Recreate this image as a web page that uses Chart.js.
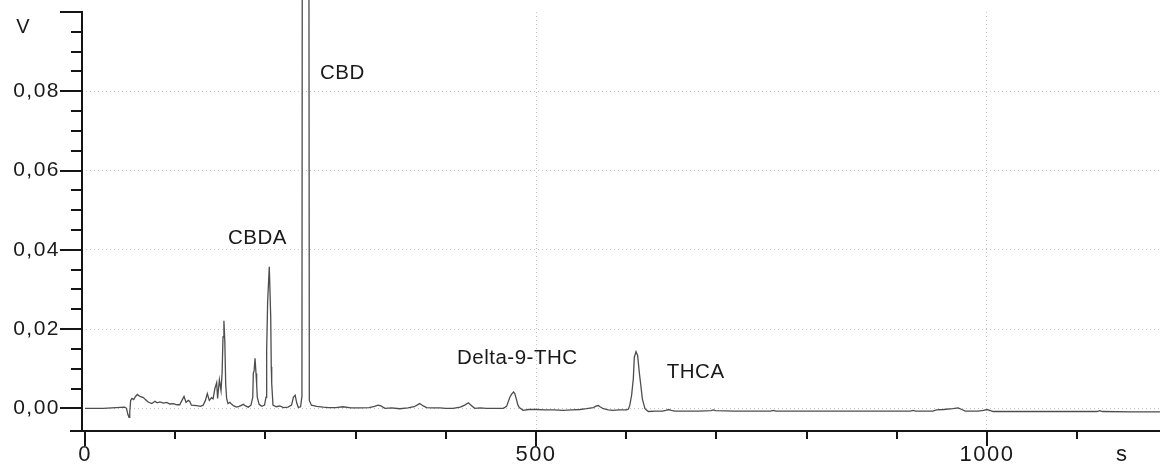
<!DOCTYPE html>
<html>
<head>
<meta charset="utf-8">
<script src="https://cdn.jsdelivr.net/npm/chart.js@4/dist/chart.umd.min.js"></script>
<style>
  html, body { margin: 0; padding: 0; background: #ffffff; }
  #wrap { width: 1160px; height: 466px; position: relative; }
</style>
</head>
<body>
<div id="wrap"><canvas id="c"></canvas></div>
<script>
// ---- data ----
const timeSec = [
  0, 20, 44, 46, 47.5, 48.8, 49.6, 50.6, 52, 54, 56, 58, 61, 64.7, 67, 70, 74, 77.6, 80, 83,
  87, 90.5, 94, 98, 102, 105, 107.5, 109.8, 112, 114.5, 116, 118, 123.8, 128, 131, 133.5, 135.6, 137.8, 140.4, 142,
  144, 146, 147, 149, 150.8, 152, 153, 154, 155, 156, 157, 158.5, 160.7, 162.6, 165, 168, 171, 175.5, 178, 181,
  184, 186, 186.6, 187.5, 188.5, 189.6, 190.3, 191, 193, 196, 199, 200.7, 201.4, 202.5, 204.3, 205.9, 206.5, 207, 208.4, 212,
  216, 220, 225, 229, 231, 233, 234.7, 236.5, 239, 240.5, 241.5, 244.5, 247.5, 248.7, 251, 257, 264, 270, 278, 286,
  295, 305, 315, 321, 325, 328, 332.6, 340, 349, 358, 365, 371, 375, 378.8, 385, 393.6, 400, 408, 416, 421,
  425, 428, 432, 438, 445, 455, 463.7, 467.4, 471, 473, 475, 476.5, 478, 480, 481.5, 485.6, 492, 500.7, 510, 520,
  530, 540, 548.8, 556, 563.5, 567, 569, 571, 574.6, 580, 585.4, 592, 600.5, 602.5, 604, 606, 607.9, 609, 610.9, 612.7,
  614.5, 616, 617.9, 620.8, 624.5, 632, 640, 644, 646.7, 650, 654, 665, 680, 694, 696.6, 699, 720, 740, 760, 763,
  766, 800, 850, 900, 915, 918, 921, 940, 944, 952, 962, 968, 972, 976, 990, 996, 1000, 1003, 1007, 1050,
  1100, 1122, 1125, 1128, 1160, 1192
];
const signalV = [
  0, 0, 0.0003, 0, -0.0015, -0.0023, -0.001, 0.002, 0.0025, 0.0022, 0.003, 0.0035, 0.003, 0.0027, 0.0022, 0.0016, 0.0012, 0.0018, 0.0014, 0.0016,
  0.0013, 0.0015, 0.0011, 0.0012, 0.0009, 0.0009, 0.002, 0.003, 0.0015, 0.002, 0.0018, 0.0008, 0.0007, 0.0005, 0.0008, 0.002, 0.0037, 0.002, 0.0027, 0.0024,
  0.005, 0.0065, 0.0025, 0.0072, 0.0045, 0.009, 0.018, 0.0221, 0.017, 0.006, 0.0025, 0.0012, 0.0015, 0.001, 0.0006, 0.0003, 0.0005, 0.001, 0.0006, 0.0003,
  0.0008, 0.0028, 0.0088, 0.0095, 0.0126, 0.0088, 0.006, 0.0028, 0.001, 0.0005, 0.0008, 0.0028, 0.0146, 0.027, 0.0357, 0.023, 0.0104, 0.0063, 0.0008, 0.0004,
  0.0006, 0.0002, 0.0003, 0.0008, 0.0028, 0.0033, 0.0014, 0.0002, 0.0004, 0.003, 0.3, 1.0, 0.3, 0.002, 0.0008, 0.0005, 0.0003, 0.0002, 0.0002, 0.0004,
  0.0001, 0.0001, 0.0002, 0.0005, 0.0008, 0.0006, 0, 0.0001, -0.0001, 0.0001, 0.0004, 0.0012, 0.0006, 0.0002, 0.0001, 0.0001, 0, 0, 0.0003, 0.0008,
  0.0014, 0.0008, 0, 0.0001, 0, 0, 0, 0.0005, 0.0028, 0.0036, 0.0041, 0.0037, 0.0025, 0.0008, 0.0002, -0.0005, -0.0003, -0.0003, -0.0004, -0.0004,
  -0.0005, -0.0004, -0.0003, -0.0001, 0.0002, 0.0006, 0.0007, 0.0004, -0.0001, -0.0004, -0.0005, -0.0004, -0.0004, -0.0002, 0.0008, 0.0033, 0.0075, 0.0129, 0.0143, 0.0133,
  0.0091, 0.0062, 0.0024, -0.0001, -0.0008, -0.0007, -0.0007, -0.0005, -0.0003, -0.0005, -0.0007, -0.0007, -0.0007, -0.0006, -0.0004, -0.0006, -0.0007, -0.0007, -0.0007, -0.0005,
  -0.0007, -0.0007, -0.0007, -0.0007, -0.0007, -0.0005, -0.0007, -0.0007, -0.0004, -0.0003, -0.0001, 0.0001, -0.0003, -0.0007, -0.0007, -0.0005, -0.0003, -0.0005, -0.0008, -0.0008,
  -0.0008, -0.0008, -0.0006, -0.0008, -0.0009, -0.0009
];

// ticks and labels
const xTickValues = [0, 100, 200, 300, 400, 500, 600, 700, 800, 900, 1000, 1100];
const xMajorTicks = [0, 500, 1000];
const xTickLabels = { 0: '0', 500: '500', 1000: '1000', 1150: 's' };
const xGridValues = [500, 1000];
const yTickValues = [0, 0.005, 0.01, 0.015, 0.02, 0.025, 0.03, 0.035, 0.04, 0.045, 0.05, 0.055, 0.06, 0.065, 0.07, 0.075, 0.08, 0.085, 0.09, 0.095, 0.1];
const yMajorTicks = [0, 0.02, 0.04, 0.06, 0.08, 0.1];
const yLabelValues = [0, 0.02, 0.04, 0.06, 0.08];
const yUnit = 'V';

// peak names and where their labels sit (in data units)
const peakNames = ['CBDA', 'CBD', 'Delta-9-THC', 'THCA'];
const peakLabelSec = [158.5, 260.5, 412.4, 645];
const peakLabelV = [0.043, 0.0845, 0.0126, 0.009];

const near = (a, b) => Math.abs(a - b) < 1e-9;
const FONT = '"Liberation Sans", Arial, sans-serif';
Chart.defaults.font.family = FONT;
Chart.defaults.color = '#1a1a1a';

const axesPlugin = {
  id: 'axesPlugin',
  beforeDraw(chart) { chart.ctx.letterSpacing = '1.5px'; },
  afterDraw(chart) {
    const ctx = chart.ctx;
    ctx.letterSpacing = '0px';
    const xs = chart.scales.x, ys = chart.scales.y, ca = chart.chartArea;
    ctx.save();
    ctx.strokeStyle = '#151515';
    ctx.lineWidth = 2;
    ctx.beginPath();
    // y axis line
    ctx.moveTo(ca.left, ys.getPixelForValue(0.1) - 1);
    ctx.lineTo(ca.left, ca.bottom + 1);
    // x axis line
    ctx.moveTo(70, ca.bottom);
    ctx.lineTo(chart.width, ca.bottom);
    // y ticks
    yTickValues.forEach(v => {
      const y = Math.round(ys.getPixelForValue(v));
      const len = yMajorTicks.some(m => near(m, v)) ? 22 : 11;
      ctx.moveTo(ca.left - len, y);
      ctx.lineTo(ca.left, y);
    });
    // x ticks
    xTickValues.forEach(v => {
      const x = Math.round(xs.getPixelForValue(v));
      const len = xMajorTicks.includes(v) ? 15 : 8;
      ctx.moveTo(x, ca.bottom);
      ctx.lineTo(x, ca.bottom + len);
    });
    ctx.stroke();

    // unit label on y axis
    ctx.fillStyle = '#1a1a1a';
    ctx.font = '20px ' + FONT;
    ctx.textAlign = 'center';
    ctx.textBaseline = 'middle';
    ctx.fillText(yUnit, 23, ys.getPixelForValue(0.1) + 15);

    // peak labels
    ctx.letterSpacing = '0.5px';
    ctx.font = '20.5px ' + FONT;
    ctx.textAlign = 'left';
    peakNames.forEach((n, i) => {
      ctx.fillText(n, xs.getPixelForValue(peakLabelSec[i]), ys.getPixelForValue(peakLabelV[i]));
    });
    ctx.letterSpacing = '0px';
    ctx.restore();
  }
};

new Chart(document.getElementById('c'), {
  type: 'line',
  data: {
    datasets: [{
      data: timeSec.map((t, i) => ({ x: t, y: signalV[i] })),
      borderColor: '#4d4d4d',
      borderWidth: 1.3,
      pointRadius: 0,
      tension: 0,
      fill: false,
      clip: { left: 0, top: false, right: 0, bottom: 0 }
    }]
  },
  options: {
    responsive: true,
    maintainAspectRatio: false,
    animation: false,
    events: [],
    layout: { padding: { top: 12, right: 0, left: 0, bottom: 0 } },
    plugins: { legend: { display: false }, tooltip: { enabled: false } },
    scales: {
      x: {
        type: 'linear',
        min: -3.33,
        max: 1191.8,
        afterFit(s) { s.height = 35; s.paddingLeft = 0; s.paddingRight = 0; },
        afterBuildTicks(s) { s.ticks = xTickValues.concat([1150]).map(v => ({ value: v })); },
        ticks: {
          autoSkip: false,
          maxRotation: 0,
          padding: 11,
          font: { size: 22 },
          color: '#1a1a1a',
          callback: v => (xTickLabels[v] !== undefined ? xTickLabels[v] : '')
        },
        grid: {
          drawTicks: false,
          lineWidth: 1,
          color: c => (c.tick && xGridValues.includes(c.tick.value)) ? '#c4c4c4' : 'rgba(0,0,0,0)'
        },
        border: { display: false, dash: [1, 3] }
      },
      y: {
        type: 'linear',
        min: -0.00572,
        max: 0.1,
        afterFit(s) { s.width = 82; s.paddingTop = 0; s.paddingBottom = 0; },
        afterBuildTicks(s) { s.ticks = yTickValues.map(v => ({ value: v })); },
        ticks: {
          autoSkip: false,
          padding: 22,
          font: { size: 21 },
          color: '#1a1a1a',
          callback: v => yLabelValues.some(m => near(m, v)) ? v.toFixed(2).replace('.', ',') : ''
        },
        grid: {
          drawTicks: false,
          lineWidth: 1,
          color: c => (c.tick && yLabelValues.some(m => near(m, c.tick.value))) ? '#c4c4c4' : 'rgba(0,0,0,0)'
        },
        border: { display: false, dash: [1, 3] }
      }
    }
  },
  plugins: [axesPlugin]
});
</script>
</body>
</html>
